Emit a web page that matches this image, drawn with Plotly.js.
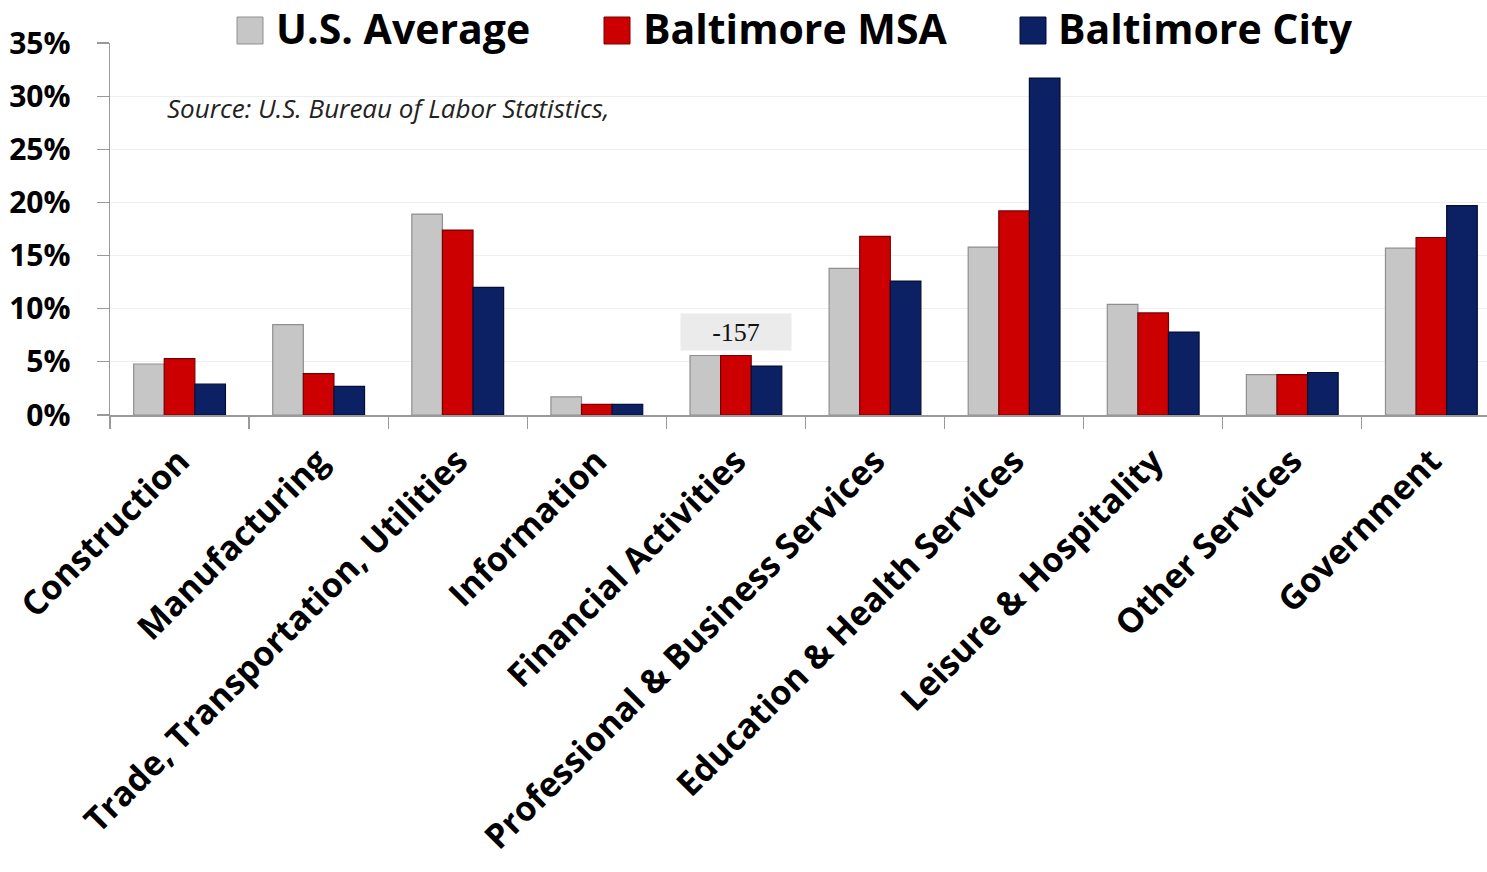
<!DOCTYPE html>
<html>
<head>
<meta charset="utf-8">
<script src="https://cdn.plot.ly/plotly-3.0.1.min.js"></script>
<style>html,body{margin:0;padding:0;background:#fff;}#chart{width:1487px;height:872px;}</style>
</head>
<body>
<div id="chart"></div>
<script>
const categories = ["Construction","Manufacturing","Trade, Transportation, Utilities","Information","Financial Activities","Professional & Business Services","Education & Health Services","Leisure & Hospitality","Other Services","Government"];
const usAverage = [0.048,0.085,0.189,0.017,0.056,0.138,0.158,0.104,0.038,0.157];
const baltimoreMSA = [0.053,0.039,0.174,0.010,0.056,0.168,0.192,0.096,0.038,0.167];
const baltimoreCity = [0.029,0.027,0.120,0.010,0.046,0.126,0.317,0.078,0.040,0.197];
const seriesNames = ["U.S. Average","Baltimore MSA","Baltimore City"];
const yTickVals = [0,0.05,0.10,0.15,0.20,0.25,0.30,0.35];
const yTickText = ["0%","5%","10%","15%","20%","25%","30%","35%"];
const sourceText = "Source: U.S. Bureau of Labor Statistics,";
const calloutText = "-157";

const W = 1487, H = 872;
const M = {l:110, r:0, t:43, b:457};
const pw = W - M.l - M.r, ph = H - M.t - M.b;
const px = x => (x - M.l) / pw;
const py = y => (H - M.b - y) / ph;

const fills = ["#c6c6c6","#cc0000","#0c2163"];
const edges = ["#8f8f8f","#7a0000","#050f35"];
const seriesData = [usAverage, baltimoreMSA, baltimoreCity];

const traces = seriesData.map((vals,i)=>({
  type:"bar", x:categories, y:vals, name:seriesNames[i], showlegend:false,
  marker:{color:fills[i], line:{color:edges[i], width:1.2}},
  hoverinfo:"x+y"
}));

// custom legend (squares + text)
const legendItems = [
  {sx:237, tx:274},
  {sx:604, tx:641},
  {sx:1020, tx:1056}
];
const shapes = legendItems.map((it,i)=>({
  type:"rect", xref:"paper", yref:"paper",
  x0:px(it.sx), x1:px(it.sx+26), y0:py(44), y1:py(17),
  fillcolor:fills[i], line:{color:edges[i], width:1}
}));
const annotations = legendItems.map((it,i)=>({
  xref:"paper", yref:"paper", x:px(it.tx), y:py(28), xanchor:"left", yanchor:"middle",
  text:"<b>"+seriesNames[i]+"</b>", showarrow:false,
  font:{family:"Open Sans, sans-serif", size:41, color:"#000"}
}));
annotations.push({
  xref:"paper", yref:"paper", x:px(165), y:py(108), xanchor:"left", yanchor:"middle",
  text:"<i>"+sourceText+"</i>", showarrow:false,
  font:{family:"Open Sans, sans-serif", size:26, color:"#222"}
});
annotations.push({
  xref:"x", yref:"paper", x:categories[4], y:py(332), xanchor:"center", yanchor:"middle",
  text:calloutText, showarrow:false, bgcolor:"#ebebeb", width:104, height:30, borderpad:3,
  font:{family:"Liberation Serif, serif", size:26, color:"#111"}
});

const layout = {
  width:W, height:H, margin:M,
  paper_bgcolor:"#fff", plot_bgcolor:"#fff",
  bargap:0.34, bargroupgap:0, barmode:"group",
  showlegend:false,
  xaxis:{
    type:"category", range:[-0.5, 9.4], tickson:"boundaries",
    ticks:"outside", ticklen:12, tickcolor:"#999", tickwidth:1.2,
    showline:true, linecolor:"#999", linewidth:1.5,
    showgrid:false, tickangle:-45, ticklabelstandoff:11,
    tickfont:{family:"Open Sans, sans-serif", size:34, color:"#000", weight:"bold"}
  },
  yaxis:{
    range:[0,0.35], tickvals:yTickVals, ticktext:yTickText,
    ticks:"outside", ticklen:12, tickcolor:"#999", tickwidth:1.2,
    showline:true, linecolor:"#999", linewidth:1.5,
    showgrid:true, gridcolor:"#efefef", gridwidth:1.2, zeroline:false,
    ticklabelstandoff:20,
    tickfont:{family:"Open Sans, sans-serif", size:30, color:"#000", weight:"bold"}
  },
  shapes:shapes, annotations:annotations
};

Plotly.newPlot("chart", traces, layout, {displayModeBar:false, staticPlot:true});
</script>
</body>
</html>
